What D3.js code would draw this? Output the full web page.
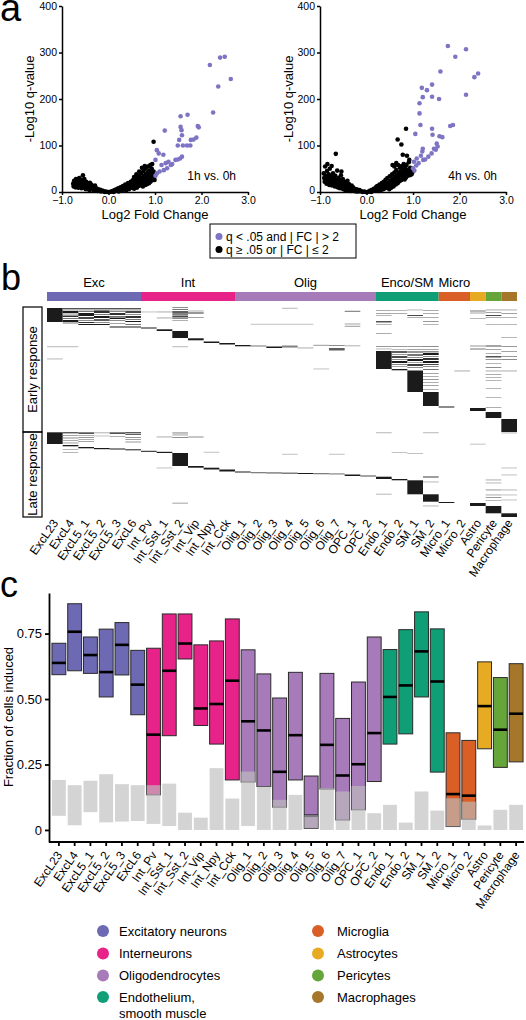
<!DOCTYPE html>
<html><head><meta charset="utf-8">
<script src="https://cdn.jsdelivr.net/npm/d3@7"></script>
<style>body{margin:0;background:#fff;} svg{display:block;}</style>
</head><body><svg id="fig" width="526" height="1020"></svg>
<script>
// ---------------- DATA ----------------
const fcTicks = [-1, 0, 1, 2, 3];
const qTicks = [0, 100, 200, 300, 400];

const up1h = [[2.18,273],[2.40,289],[2.50,291],[2.63,243],[2.36,227],[2.25,171],[1.21,132],[1.55,163],[1.70,166],[1.55,140],[1.57,133],[1.58,122],[1.52,112],[1.49,100],[1.60,100],[1.69,100],[1.76,100],[1.77,112],[1.83,113],[1.89,117],[1.92,142],[1.94,139],[1.04,90],[1.08,83],[1.18,80],[1.01,69],[1.14,58],[1.23,62],[1.29,65],[1.44,69],[1.49,70],[1.54,72],[1.58,76],[1.37,60],[1.26,51],[1.19,47],[1.10,44],[1.04,40],[1.01,35],[1.34,58]];
const other1h = [[-0.76,18],[-0.75,12],[-0.74,24],[-0.72,16],[-0.71,10],[-0.7,28],[-0.69,20],[-0.68,14],[-0.66,22],[-0.65,9],[-0.64,17],[-0.63,30],[-0.62,12],[-0.61,24],[-0.6,18],[-0.58,8],[-0.58,26],[-0.56,14],[-0.55,36],[-0.54,20],[-0.53,10],[-0.52,28],[-0.5,16],[-0.49,6],[-0.48,22],[-0.47,12],[-0.45,18],[-0.44,8],[-0.42,14],[-0.41,4],[-0.4,20],[-0.38,10],[-0.37,16],[-0.35,6],[-0.34,12],[-0.32,3],[-0.31,9],[-0.29,14],[-0.28,5],[-0.26,8],[-0.24,2],[-0.22,6],[-0.2,3],[-0.18,5],[-0.16,1],[-0.14,3],[-0.11,2],[-0.08,0],[-0.06,1],[-0.03,0],[0,0],
[0.03,0],[0.06,1],[0.09,2],[0.11,0],[0.13,4],[0.15,2],[0.17,6],[0.19,3],[0.21,8],[0.22,1],[0.24,5],[0.26,10],[0.28,3],[0.3,7],[0.31,13],[0.33,5],[0.35,10],[0.36,16],[0.38,4],[0.4,8],[0.41,13],[0.42,19],[0.44,6],[0.45,11],[0.47,16],[0.48,22],[0.5,9],[0.51,14],[0.52,25],[0.54,19],[0.55,7],[0.56,12],[0.57,28],[0.58,22],[0.6,16],[0.61,9],[0.62,31],[0.63,24],[0.64,18],[0.65,13],[0.66,35],[0.67,27],[0.68,21],[0.69,15],[0.7,40],[0.71,30],[0.72,24],[0.73,18],[0.74,12],[0.75,45],[0.76,34],[0.77,27],[0.78,20],[0.79,15],[0.8,50],[0.8,38],[0.81,30],[0.82,23],[0.83,17],[0.84,42],[0.85,55],[0.85,33],[0.86,26],[0.87,19],[0.88,46],[0.88,37],[0.89,29],[0.9,22],[0.9,58],[0.91,40],[0.92,32],[0.93,25],[0.93,50],[0.94,60],[0.95,36],[0.96,28],[0.97,44],[0.97,108],[0.98,32],[0.99,26],[0.99,38],[0.72,52],[0.66,44],[0.78,56],[0.6,38],[0.55,32]];

const up4h = [[1.75,314],[2.14,307],[1.91,291],[1.59,259],[1.19,224],[1.30,219],[1.41,231],[1.21,204],[1.41,205],[1.56,200],[1.14,191],[1.14,169],[1.16,144],[2.14,209],[2.32,247],[2.40,255],[1.80,142],[1.86,144],[1.05,125],[1.41,136],[1.42,123],[1.57,120],[1.63,118],[1.51,104],[1.53,98],[1.45,93],[1.40,83],[1.21,93],[1.20,87],[1.17,78],[1.08,72],[1.02,65],[1.12,62],[1.22,69],[1.07,57],[1.00,51],[1.03,46],[1.26,70],[1.33,76],[1.49,91]];
const other4h = [[-0.92,40],[-0.91,30],[-0.9,22],[-0.89,55],[-0.88,35],[-0.87,26],[-0.86,18],[-0.85,45],[-0.84,60],[-0.83,30],[-0.82,22],[-0.81,38],[-0.8,15],[-0.79,50],[-0.78,27],[-0.77,20],[-0.76,33],[-0.75,56],[-0.74,14],[-0.73,25],[-0.72,40],[-0.71,18],[-0.7,30],[-0.69,22],[-0.68,12],[-0.67,35],[-0.66,82],[-0.65,26],[-0.64,17],[-0.63,46],[-0.62,10],[-0.61,22],[-0.6,30],[-0.59,15],[-0.58,25],[-0.57,8],[-0.56,19],[-0.55,36],[-0.54,44],[-0.53,12],[-0.52,23],[-0.51,28],[-0.5,6],[-0.49,17],[-0.48,10],[-0.47,22],[-0.46,14],[-0.45,4],[-0.44,19],[-0.43,9],[-0.42,15],[-0.41,24],[-0.4,3],[-0.39,11],[-0.38,17],[-0.37,7],[-0.36,13],[-0.34,2],[-0.33,9],[-0.32,14],[-0.3,5],[-0.29,10],[-0.27,2],[-0.26,7],[-0.24,4],[-0.22,1],[-0.21,6],[-0.19,3],[-0.17,1],[-0.15,4],[-0.13,2],[-0.1,1],[-0.08,0],[-0.05,1],[-0.02,0],
[0.02,0],[0.05,1],[0.08,3],[0.1,0],[0.12,5],[0.14,2],[0.16,7],[0.18,3],[0.2,10],[0.21,5],[0.23,13],[0.25,7],[0.26,2],[0.28,16],[0.3,9],[0.31,4],[0.33,19],[0.34,12],[0.36,6],[0.37,22],[0.39,14],[0.4,8],[0.41,26],[0.43,17],[0.44,10],[0.45,30],[0.47,20],[0.48,13],[0.49,6],[0.5,34],[0.51,24],[0.52,16],[0.53,9],[0.55,38],[0.56,28],[0.57,20],[0.58,12],[0.6,42],[0.6,32],[0.62,24],[0.63,16],[0.64,47],[0.65,36],[0.66,28],[0.67,19],[0.68,58],[0.69,40],[0.7,31],[0.71,23],[0.72,52],[0.73,44],[0.74,35],[0.75,102],[0.75,26],[0.76,56],[0.77,39],[0.78,80],[0.78,30],[0.79,48],[0.8,60],[0.8,34],[0.81,42],[0.82,27],[0.83,52],[0.84,38],[0.85,136],[0.85,31],[0.86,58],[0.87,78],[0.87,45],[0.88,35],[0.89,48],[0.9,40],[0.91,64],[0.92,69],[0.92,44],[0.93,36],[0.94,52],[0.95,41],[0.96,47],[0.97,38],[0.98,50],[0.99,43],[0.67,113],[0.56,58],[0.6,55],[0.64,62]];

const cellTypes = ["ExcL23","ExcL4","ExcL5_1","ExcL5_2","ExcL5_3","ExcL6","Int_Pv","Int_Sst_1","Int_Sst_2","Int_Vip","Int_Npy","Int_Cck","Olig_1","Olig_2","Olig_3","Olig_4","Olig_5","Olig_6","Olig_7","OPC_1","OPC_2","Endo_1","Endo_2","SM_1","SM_2","Micro_1","Micro_2","Astro","Pericyte","Macrophage"];
const cellGroup = [0,0,0,0,0,0,1,1,1,1,1,1,2,2,2,2,2,2,2,2,2,3,3,3,3,4,4,5,6,7];
const groupHeader = ["Exc","Int","Olig","Enco/SM","Micro","","",""];
const groupColors = ["#6d69b3","#e7238a","#a77bba","#109e76","#d95f27","#e6ab22","#66a53a","#a6762b"];
const legendLeft = [["Excitatory neurons"],["Interneurons"],["Oligodendrocytes"],["Endothelium,","smooth muscle"]];
const legendRight = [["Microglia"],["Astrocytes"],["Pericytes"],["Macrophages"]];
const legendLeftGroup = [0,1,2,3];
const legendRightGroup = [4,5,6,7];

// heatmap: [firstCol, lastCol, geneFrom, geneTo, level(0 white..1 black)]
const geneCount = 210;
const earlyGenes = 125;
const heatSegments = [
[0,0,1,15,1],
[1,5,1,2,0.75],[1,5,2.3,3.5,0.45],
[1,1,4,6,1],[2,2,4,5,0.6],[3,3,3.5,6,0.9],[4,4,4,5,0.5],[5,5,4,6,0.8],
[1,1,6.5,7.5,0.5],[2,2,6,9,1],[3,3,7,8,0.6],[4,4,6,8,0.9],[5,5,7,8,0.5],
[1,1,8.5,10,0.9],[2,2,10,12,0.8],[3,3,9,11,1],[4,4,9,10,0.6],[4,4,10.5,12,1],[5,5,9,11,0.9],
[1,1,11,12,0.6],[1,1,13,15,1],[2,2,13,14,0.5],[3,3,12,14,0.7],[4,4,13,14,0.5],[5,5,12,13,0.6],[5,5,14,15,1],
[1,1,15.5,16.5,0.6],[2,2,15,16,0.9],[2,3,17,18,1],[3,3,15,16,0.5],[4,5,19.5,20.5,1],[4,4,16,17,0.4],[5,5,17,18,0.6],
[6,6,20.5,21.5,1],[7,7,22.3,24,1],[8,8,24,31,1],[9,9,31.3,33.3,1],[10,10,34.5,36,1],[11,11,36,37.5,1],[12,12,38,39.3,1],
[13,13,38.5,39.5,0.6],[14,14,39.5,41,1],[15,15,38.5,39.5,0.55],[15,15,39.5,40.3,0.8],[16,16,40.5,41.3,0.4],[17,17,37.8,38.8,0.45],
[18,18,41,43.5,0.7],[18,18,38,39,0.5],[19,19,38.3,39.3,0.35],[19,19,3.8,4.6,0.7],[19,19,16.5,17.5,0.4],[19,19,18.8,19.6,0.5],
[15,15,0.8,1.6,0.35],[13,16,16.8,17.5,0.3],[17,17,61.5,62.3,0.3],[0,1,39.3,40,0.35],[0,0,51.5,52.2,0.35],[8,8,39.3,40,0.35],
[7,7,4.5,5.3,0.4],[7,7,10.5,11.3,0.4],[8,8,0,1,0.5],[8,8,2,3,0.6],[8,8,4,6,0.7],[8,8,6,8,0.55],[8,8,8.5,10.5,0.8],[8,8,11,12,0.5],[8,8,13,14,0.35],
[9,9,3.5,4.5,0.35],[9,9,5,7,0.45],[9,9,10,11,0.4],[6,6,4.5,5.3,0.3],
[21,21,3,3.8,0.4],[21,21,6,6.8,0.45],[21,21,8,8.8,0.35],[21,21,14,15.5,0.75],[21,21,17,17.8,0.35],[21,21,26,26.8,0.4],[21,21,39,40,0.45],[21,21,41.5,42.3,0.35],[21,21,44,62,1],
[22,22,3,3.8,0.35],[22,22,6,6.8,0.4],[22,22,39,40,0.45],[22,22,42,43,0.3],[22,22,44,46,0.7],[22,22,47,48,0.45],[22,22,49,51,0.8],[22,22,52,53,0.5],[22,22,54,56,1],[22,22,57,58,0.55],[22,22,59,60,0.4],[22,22,62,63.3,1],
[23,23,2.5,3.3,0.35],[23,23,8,9,0.8],[23,23,10,10.8,0.4],[23,23,39,40,0.45],[23,23,42,43,0.4],[23,23,44,46,0.45],[23,23,47,49,0.6],[23,23,50,51,0.5],[23,23,52,54,1],[23,23,55,56,0.4],[23,23,57,59,0.85],[23,23,60,61,0.5],[23,23,63.5,85,1],
[24,24,3,3.8,0.4],[24,24,6,6.8,0.4],[24,24,10,10.8,0.4],[24,24,14,15,0.45],[24,24,17,17.8,0.35],[24,24,39,40,0.5],[24,24,42,43,0.4],[24,24,44,45.5,0.5],[24,24,46,48,1],[24,24,49,50,0.5],[24,24,51,53,0.9],[24,24,54,56,1],[24,24,57,58,0.8],[24,24,59,60,0.5],[24,24,62,63,0.6],[24,24,66,67,0.4],[24,24,69,70,0.35],[24,24,72,73,0.45],[24,24,75,76,0.35],[24,24,78,79,0.4],[24,24,82,83,0.35],[24,24,85,99,1],
[25,25,99.5,100.5,1],[26,26,63.5,64.2,0.4],
[27,27,3.5,4.5,0.6],[27,27,5.5,6.5,0.4],[27,27,11,11.8,0.35],[27,27,38.5,39.5,0.45],[27,27,41.5,42.5,0.6],[27,27,101,104,1],
[28,28,2.5,3.3,0.4],[28,28,5,5.8,0.45],[28,28,8,9,0.8],[28,28,10,10.8,0.4],[28,28,17,17.8,0.35],[28,28,38.5,39.5,0.8],[28,28,42,43,0.4],[28,28,46,47,0.35],[28,28,49,50.5,0.75],[28,28,52,53,0.45],[28,28,56,56.8,0.35],[28,28,60,61,0.5],[28,28,63.5,64.3,0.4],[28,28,67,67.8,0.4],[28,28,70,70.8,0.35],[28,28,73,73.8,0.35],[28,28,81,81.8,0.35],[28,28,90,90.8,0.35],[28,28,100,100.8,0.4],[28,28,105,111,1],
[29,29,2.5,3.3,0.4],[29,29,6,6.8,0.45],[29,29,10,10.8,0.35],[29,29,17,17.8,0.35],[29,29,30,30.8,0.35],[29,29,39,40,0.45],[29,29,44,45,0.4],[29,29,49,50,0.45],[29,29,52,53,0.5],[29,29,63.5,64.3,0.4],[29,29,112,125,1],
// late response
[0,0,125.3,137,1],
[1,1,125.3,126.3,1],[1,1,128,129,0.4],[1,1,130.5,131.5,0.5],[1,1,133,134,0.35],[1,1,135.5,136.3,0.45],[1,1,138,139.3,1],[1,1,142,142.8,0.35],[1,1,145,145.8,0.35],
[2,2,125.3,127,0.75],[2,2,128,129,0.35],[2,2,130,131,0.45],[2,2,132,133,0.35],[2,2,134,135,0.4],[2,2,140,141.3,1],
[3,3,125.3,126.3,0.35],[3,3,128.5,129.3,0.3],[3,3,141,142.2,1],
[4,4,125.3,127,0.75],[4,4,129,130,0.35],[4,4,141.5,142.5,1],
[5,5,125.3,126.3,1],[5,5,127,128,0.7],[5,5,130,131,0.45],[5,5,132,133,0.4],[5,5,134.5,135.5,0.45],[5,5,142.3,143.3,1],
[6,6,143.8,144.8,1],[7,7,144.8,146,1],[7,7,129.5,130.3,0.4],[7,7,160.5,161.3,0.3],[8,8,146,159,1],[8,8,125.5,126.3,0.6],[8,8,127.5,128.3,0.45],[8,8,130,131,0.5],[8,8,195.7,196.5,0.45],
[9,9,159,160.7,1],[9,9,129.5,130.5,0.5],[10,10,160.7,162.5,1],[10,10,144.8,145.5,0.3],[11,11,162.5,164.5,1],
[12,12,164.5,165.5,1],[13,13,165.3,166.2,0.8],[14,14,165.5,166.3,0.9],[15,15,165.7,166.5,0.95],[16,16,166,167,1],[17,17,166.3,167,0.8],[18,18,166.5,167.3,0.7],[15,15,146.8,147.6,0.3],[18,18,146.8,147.6,0.3],
[19,19,167.5,169,1],[20,20,168.5,169.5,0.8],
[21,21,169.7,172,1],[21,21,125.3,126,0.35],[21,21,186.7,187.5,0.35],[22,22,172,173.3,1],[22,22,145,145.8,0.3],
[23,23,173.3,187.3,1],[23,23,146,146.8,0.3],[24,24,187.3,194.7,1],[24,24,125.3,126,0.35],[24,24,169.5,170.5,0.85],[24,24,174.5,175.3,0.35],[24,24,198.5,199.3,0.35],
[25,25,195,196,1],
[27,27,196,199,1],[27,27,136.7,137.4,0.3],
[28,28,199,206.3,1],[28,28,172.5,173.3,0.4],[28,28,175.5,176.3,0.35],[28,28,182.5,183.3,0.5],[28,28,187.5,188.3,0.4],[28,28,190,191,0.45],[28,28,193,193.8,0.35],
[29,29,206.3,210,1],[29,29,125.5,126.3,0.35],[29,29,160.5,161.3,0.3],[29,29,167.5,168.3,0.3],[29,29,182.5,183.3,0.35],[29,29,187.5,188.3,0.3],[29,29,192.5,193.3,0.3]
];

// panel c: induced fraction ranges (colored) and background (gray)
const indLow  = [0.593,0.608,0.598,0.508,0.592,0.440,0.134,0.360,0.653,0.399,0.328,0.191,0.183,0.166,0.087,0.191,0.006,0.156,0.038,0.077,0.185,0.328,0.367,0.508,0.221,0.013,0.041,0.310,0.239,0.260];
const indMed  = [0.638,0.757,0.668,0.603,0.707,0.555,0.364,0.608,0.712,0.464,0.481,0.570,0.415,0.380,0.222,0.362,0.054,0.325,0.208,0.251,0.370,0.508,0.552,0.682,0.567,0.137,0.131,0.473,0.383,0.444];
const indHigh = [0.713,0.864,0.737,0.767,0.792,0.686,0.694,0.825,0.825,0.707,0.722,0.806,0.688,0.596,0.504,0.602,0.206,0.598,0.426,0.565,0.737,0.689,0.765,0.833,0.768,0.371,0.342,0.642,0.582,0.635];
const bgLow   = [0.054,0.018,0.068,0.029,0.032,0.034,0.023,0.015,0,0,0,0,0.015,0,0,0,0.006,0,0,0,0,0,0,0,0,0.013,0,0,0,0];
const bgHigh  = [0.191,0.171,0.188,0.213,0.175,0.171,0.171,0.177,0.066,0.047,0.236,0.120,0.223,0.166,0.115,0.134,0.057,0.160,0.147,0.168,0.064,0.096,0.028,0.147,0.074,0.121,0.108,0.017,0.077,0.096];
const fracTicks = [0, 0.25, 0.5, 0.75];

// ---------------- DRAW ----------------
const FONT = '"Liberation Sans", Arial, Helvetica, sans-serif';
const svg = d3.select("#fig").attr("font-family", FONT);
const PURPLE = "#7d74c4";
const LABEL_ANGLE = -55;

function panelLetter(t, x, y, size) {
  svg.append("text").attr("x", x).attr("y", y).attr("font-size", size).attr("fill", "#000").text(t);
}
panelLetter("a", 0, 21, 38);
panelLetter("b", 1, 290, 36);
panelLetter("c", 0, 597, 36);

function styleAxis(g, fs, sw) {
  g.attr("font-family", FONT).attr("font-size", fs);
  g.selectAll("path.domain").attr("stroke", "#000").attr("stroke-width", sw);
  g.selectAll(".tick line").attr("stroke", "#000").attr("stroke-width", sw);
  g.selectAll(".tick text").attr("fill", "#000");
}

function volcano(x0, x1, up, other, label, titleX, labelY) {
  const x = d3.scaleLinear().domain(d3.extent(fcTicks)).range([x0, x1]);
  const y = d3.scaleLinear().domain(d3.extent(qTicks)).range([192, 6]);
  const g = svg.append("g");
  g.selectAll("circle.oth").data(other).join("circle").attr("class","oth")
    .attr("cx", d => x(d[0])).attr("cy", d => y(d[1])).attr("r", 2.3).attr("fill", "#000");
  g.selectAll("circle.up").data(up).join("circle").attr("class","up")
    .attr("cx", d => x(d[0])).attr("cy", d => y(d[1])).attr("r", 2.3).attr("fill", PURPLE);
  const ax = g.append("g").attr("transform", `translate(0,192)`)
    .call(d3.axisBottom(x).tickValues(fcTicks).tickSize(3).tickSizeOuter(0).tickPadding(2));
  styleAxis(ax, 10.5, 1.5);
  const ay = g.append("g").attr("transform", `translate(${x0},0)`)
    .call(d3.axisLeft(y).tickValues(qTicks).tickSize(3).tickSizeOuter(0).tickPadding(2));
  styleAxis(ay, 10.5, 1.5);
  ay.selectAll(".tick text").filter(d => d === 0).attr("dy", "0.15em");
  g.append("text").attr("x", (x0 + x1) / 2).attr("y", 219).attr("text-anchor", "middle").attr("font-size", 13).text("Log2 Fold Change");
  g.append("text").attr("transform", `translate(${titleX},${99}) rotate(-90)`).attr("text-anchor", "middle").attr("font-size", 13).text("-Log10 q-value");
  g.append("text").attr("x", labelY).attr("y", 180).attr("text-anchor", "end").attr("font-size", 12).text(label);
}
volcano(62, 248, up1h, other1h, "1h vs. 0h", 34, 236);
volcano(320, 506, up4h, other4h, "4h vs. 0h", 293, 497);

// legend a
const lg = svg.append("g");
lg.append("rect").attr("x", 210).attr("y", 224).attr("width", 146).attr("height", 34).attr("fill", "none").attr("stroke", "#000").attr("stroke-width", 1);
const legA = [{c: PURPLE, t: "q < .05 and | FC | > 2"}, {c: "#000", t: "q \u2265 .05 or | FC | \u2264 2"}];
legA.forEach((d, i) => {
  lg.append("circle").attr("cx", 219).attr("cy", 236.5 + i * 13).attr("r", 3.5).attr("fill", d.c);
  lg.append("text").attr("x", 226).attr("y", 241 + i * 13).attr("font-size", 12).text(d.t);
});

// ---------------- panel b heatmap ----------------
const hx = d3.scaleBand().domain(cellTypes).range([47, 517]);
const hy = d3.scaleLinear().domain([0, geneCount]).range([307, 517]);
const hb = svg.append("g");
const groups = d3.range(groupColors.length).map(gi => {
  const cols = cellTypes.filter((c, i) => cellGroup[i] === gi);
  return {gi, first: cols[0], last: cols[cols.length - 1]};
});
hb.selectAll("rect.hdr").data(groups).join("rect").attr("class","hdr")
  .attr("x", d => hx(d.first)).attr("y", 292)
  .attr("width", d => hx(d.last) + hx.bandwidth() - hx(d.first)).attr("height", 9)
  .attr("fill", d => groupColors[d.gi]);
hb.selectAll("text.hdr").data(groups.filter(d => groupHeader[d.gi])).join("text").attr("class","hdr")
  .attr("x", d => (hx(d.first) + hx(d.last) + hx.bandwidth()) / 2).attr("y", 287)
  .attr("text-anchor", "middle").attr("font-size", 13).text(d => groupHeader[d.gi]);
const shade = l => { const v = Math.round(255 - l * 228); return `rgb(${v},${v},${v})`; };
hb.selectAll("rect.cell").data(heatSegments).join("rect").attr("class","cell")
  .attr("x", d => hx(cellTypes[d[0]]))
  .attr("width", d => hx(cellTypes[d[1]]) + hx.bandwidth() - hx(cellTypes[d[0]]))
  .attr("y", d => hy(d[2]))
  .attr("height", d => Math.max(0.9, hy(d[3]) - hy(d[2])))
  .attr("fill", d => shade(d[4]));
const sides = [{t: "Early response", a: 0, b: earlyGenes}, {t: "Late response", a: earlyGenes, b: geneCount}];
sides.forEach(s => {
  hb.append("rect").attr("x", 23).attr("y", hy(s.a)).attr("width", 19).attr("height", hy(s.b) - hy(s.a))
    .attr("fill", "none").attr("stroke", "#000").attr("stroke-width", 1.2);
  hb.append("text").attr("transform", `translate(37,${(hy(s.a) + hy(s.b)) / 2}) rotate(-90)`)
    .attr("text-anchor", "middle").attr("font-size", 13).text(s.t);
});
hb.selectAll("text.col").data(cellTypes).join("text").attr("class","col")
  .attr("transform", d => `translate(${hx(d) + hx.bandwidth() / 2 + 4},${523}) rotate(${LABEL_ANGLE})`)
  .attr("text-anchor", "end").attr("font-size", 12).text(d => d);

// ---------------- panel c ----------------
const cx = d3.scaleBand().domain(cellTypes).range([51, 524]).paddingInner(0.12).paddingOuter(0.06);
const cy = d3.scaleLinear().domain([-0.046, 0.905]).range([842, 593]);
const pc = svg.append("g");
const idx = d3.range(cellTypes.length);
pc.selectAll("rect.box").data(idx).join("rect").attr("class","box")
  .attr("x", i => cx(cellTypes[i])).attr("width", cx.bandwidth())
  .attr("y", i => cy(indHigh[i])).attr("height", i => cy(indLow[i]) - cy(indHigh[i]))
  .attr("fill", i => groupColors[cellGroup[i]]).attr("stroke", "#2a2a2a").attr("stroke-width", 1);
pc.selectAll("line.med").data(idx).join("line").attr("class","med")
  .attr("x1", i => cx(cellTypes[i])).attr("x2", i => cx(cellTypes[i]) + cx.bandwidth())
  .attr("y1", i => cy(indMed[i])).attr("y2", i => cy(indMed[i]))
  .attr("stroke", "#000").attr("stroke-width", 2.6);
pc.selectAll("rect.bg").data(idx).join("rect").attr("class","bg")
  .attr("x", i => cx(cellTypes[i])).attr("width", cx.bandwidth())
  .attr("y", i => cy(bgHigh[i])).attr("height", i => Math.max(1, cy(bgLow[i]) - cy(bgHigh[i])))
  .attr("fill", "#bdbdbd").attr("fill-opacity", 0.66);
const cay = pc.append("g").attr("transform", "translate(49,0)")
  .call(d3.axisLeft(cy).tickValues(fracTicks).tickFormat(d => d === 0 ? "0" : d3.format(".2f")(d)).tickSize(4).tickSizeOuter(0).tickPadding(3));
styleAxis(cay, 13, 1.8);
const cax = pc.append("g").attr("transform", "translate(0,842)")
  .call(d3.axisBottom(cx).tickSize(4).tickSizeOuter(0));
styleAxis(cax, 12, 1.8);
cax.select("path.domain").remove();
cax.selectAll(".tick text").remove();
pc.append("line").attr("x1", 49).attr("x2", 524).attr("y1", 842).attr("y2", 842).attr("stroke", "#000").attr("stroke-width", 1.8);
pc.selectAll("text.xl").data(cellTypes).join("text").attr("class","xl")
  .attr("transform", d => `translate(${cx(d) + cx.bandwidth() / 2 + 4},${855}) rotate(${LABEL_ANGLE})`)
  .attr("text-anchor", "end").attr("font-size", 12).text(d => d);
pc.append("text").attr("transform", "translate(13,717) rotate(-90)").attr("text-anchor", "middle").attr("font-size", 13).text("Fraction of cells induced");

// legend c
const legY = [931, 953.5, 975.5, 997];
function legendCol(items, grp, xc, xt) {
  items.forEach((lines, i) => {
    svg.append("circle").attr("cx", xc).attr("cy", legY[i]).attr("r", 6).attr("fill", groupColors[grp[i]]);
    lines.forEach((ln, j) => {
      svg.append("text").attr("x", xt).attr("y", legY[i] + 4.5 + j * 16.5).attr("font-size", 13).text(ln);
    });
  });
}
legendCol(legendLeft, legendLeftGroup, 103, 119);
legendCol(legendRight, legendRightGroup, 318, 337);
</script></body></html>
